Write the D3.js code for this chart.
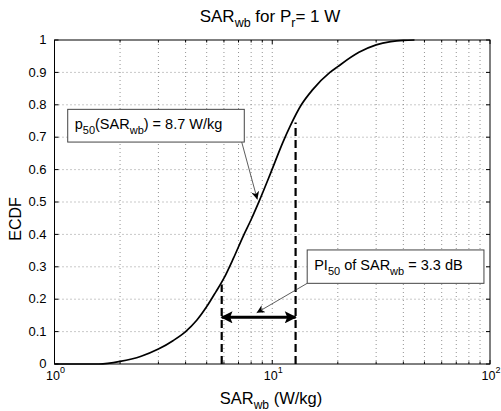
<!DOCTYPE html>
<html><head><meta charset="utf-8">
<script src="https://cdn.jsdelivr.net/npm/d3@7"></script>
<style>
body{margin:0;background:#fff;}
text{font-family:"Liberation Sans",Arial,Helvetica,sans-serif;fill:#000;}
</style></head>
<body>
<svg id="chart" width="501" height="411"></svg>
<script>
// ECDF of whole-body SAR (W/kg)
const sarValues = [1, 1.6, 2, 2.5, 3, 3.5, 4, 4.5, 5.09, 5.5, 6, 6.62, 7.36, 8, 8.7, 9.84, 11.2, 12.1, 13.6, 15.3, 18.4, 20, 25, 30, 35, 40, 45];
const ecdfValues = [0, 0, 0.008, 0.024, 0.046, 0.072, 0.10, 0.135, 0.185, 0.222, 0.265, 0.325, 0.395, 0.446, 0.502, 0.59, 0.685, 0.735, 0.8, 0.846, 0.9, 0.918, 0.962, 0.985, 0.995, 0.999, 1];
const yTicks = [0, 0.1, 0.2, 0.3, 0.4, 0.5, 0.6, 0.7, 0.8, 0.9, 1];
const yTickLabels = ["0", "0.1", "0.2", "0.3", "0.4", "0.5", "0.6", "0.7", "0.8", "0.9", "1"];
const xMajorTicks = [1, 10, 100];
const xMajorExp = ["0", "1", "2"];
const xMinorTicks = [2, 3, 4, 5, 6, 7, 8, 9, 20, 30, 40, 50, 60, 70, 80, 90];
// percentile interval markers
const p25 = 5.86, p75 = 12.8, p50 = 8.7;
const p25Level = 0.245, p75Level = 0.745, piArrowLevel = 0.144;
// annotation boxes (data coordinates)
const box1 = {x0: 1.15, x1: 7.44, y0: 0.685, y1: 0.786};
const arrow1 = {x0: 7.24, y0: 0.685, x1: 8.54, y1: 0.508};
const box2 = {x0: 14.47, x1: 93.8, y0: 0.249, y1: 0.352};
const arrow2 = {x0: 14.47, y0: 0.249, x1: 8.48, y1: 0.158};

const svg = d3.select("#chart");
const L = 54.5, R = 490, T = 40, B = 364;
const x = d3.scaleLog().domain([1, 100]).range([L, R]);
const y = d3.scaleLinear().domain([0, 1]).range([B, T]);

const defs = svg.append("defs");
defs.append("marker").attr("id", "ah").attr("viewBox", "0 0 10 10")
  .attr("refX", 10).attr("refY", 5).attr("markerWidth", 10).attr("markerHeight", 8)
  .attr("markerUnits", "userSpaceOnUse").attr("orient", "auto")
  .append("path").attr("d", "M0,0 L10,5 L0,10 L3,5 Z").attr("fill", "#000");
defs.append("marker").attr("id", "dh").attr("viewBox", "0 0 10 10")
  .attr("refX", 9).attr("refY", 5).attr("markerWidth", 14).attr("markerHeight", 12)
  .attr("markerUnits", "userSpaceOnUse").attr("orient", "auto-start-reverse")
  .append("path").attr("d", "M0,0 L10,5 L0,10 L2,5 Z").attr("fill", "#000");

// grid
const g = svg.append("g");
g.selectAll(".vg").data(xMinorTicks.concat([10])).enter().append("line")
  .attr("x1", d => x(d)).attr("x2", d => x(d)).attr("y1", T).attr("y2", B)
  .attr("stroke", "#777").attr("stroke-width", 0.8).attr("stroke-dasharray", "1,3");
g.selectAll(".hg").data(yTicks.slice(1, -1)).enter().append("line")
  .attr("x1", L).attr("x2", R).attr("y1", d => y(d)).attr("y2", d => y(d))
  .attr("stroke", "#777").attr("stroke-width", 0.8).attr("stroke-dasharray", "1,3");

// ticks (inside)
yTicks.forEach(v => {
  g.append("line").attr("x1", L).attr("x2", L + 4).attr("y1", y(v)).attr("y2", y(v)).attr("stroke", "#000");
  g.append("line").attr("x1", R).attr("x2", R - 4).attr("y1", y(v)).attr("y2", y(v)).attr("stroke", "#000");
});
xMajorTicks.forEach(v => {
  g.append("line").attr("x1", x(v)).attr("x2", x(v)).attr("y1", B).attr("y2", B - 4).attr("stroke", "#000");
  g.append("line").attr("x1", x(v)).attr("x2", x(v)).attr("y1", T).attr("y2", T + 4).attr("stroke", "#000");
});
xMinorTicks.forEach(v => {
  g.append("line").attr("x1", x(v)).attr("x2", x(v)).attr("y1", B).attr("y2", B - 2.5).attr("stroke", "#000");
  g.append("line").attr("x1", x(v)).attr("x2", x(v)).attr("y1", T).attr("y2", T + 2.5).attr("stroke", "#000");
});

// axes box
svg.append("rect").attr("x", L).attr("y", T).attr("width", R - L).attr("height", B - T)
  .attr("fill", "none").attr("stroke", "#000").attr("stroke-width", 1);

// tick labels
svg.selectAll(".yl").data(yTicks).enter().append("text")
  .attr("x", L - 8).attr("y", d => y(d)).attr("dy", "0.33em")
  .attr("text-anchor", "end").attr("font-size", 13)
  .text((d, i) => yTickLabels[i]);
xMajorTicks.forEach((v, i) => {
  const t = svg.append("text").attr("x", x(v) - 8.5).attr("y", 380).attr("font-size", 12.5);
  t.append("tspan").text("10");
  t.append("tspan").attr("font-size", 9).attr("dy", -7).text(xMajorExp[i]);
});

// curve
const line = d3.line().x((d, i) => x(sarValues[i])).y((d, i) => y(ecdfValues[i])).curve(d3.curveMonotoneX);
svg.append("path").datum(ecdfValues).attr("d", line)
  .attr("fill", "none").attr("stroke", "#000").attr("stroke-width", 1.7);

// dashed percentile lines
svg.append("line").attr("x1", x(p25)).attr("x2", x(p25)).attr("y1", y(0)).attr("y2", y(p25Level))
  .attr("stroke", "#000").attr("stroke-width", 2.2).attr("stroke-dasharray", "8,4");
svg.append("line").attr("x1", x(p75)).attr("x2", x(p75)).attr("y1", y(0)).attr("y2", y(p75Level))
  .attr("stroke", "#000").attr("stroke-width", 2.2).attr("stroke-dasharray", "8,4");

// double arrow
svg.append("line").attr("x1", x(p25)).attr("x2", x(p75)).attr("y1", y(piArrowLevel)).attr("y2", y(piArrowLevel))
  .attr("stroke", "#000").attr("stroke-width", 3)
  .attr("marker-start", "url(#dh)").attr("marker-end", "url(#dh)");

// annotation 1
svg.append("line").attr("x1", x(arrow1.x0)).attr("y1", y(arrow1.y0)).attr("x2", x(arrow1.x1)).attr("y2", y(arrow1.y1))
  .attr("stroke", "#333").attr("stroke-width", 0.8).attr("marker-end", "url(#ah)");
svg.append("rect").attr("x", x(box1.x0)).attr("y", y(box1.y1))
  .attr("width", x(box1.x1) - x(box1.x0)).attr("height", y(box1.y0) - y(box1.y1))
  .attr("fill", "#fff").attr("stroke", "#444").attr("stroke-width", 1);
const t1 = svg.append("text").attr("x", x(box1.x0) + 7).attr("y", (y(box1.y0) + y(box1.y1)) / 2 + 3).attr("font-size", 14.5);
t1.append("tspan").text("p");
t1.append("tspan").attr("font-size", 11).attr("dy", 5).text("50");
t1.append("tspan").attr("dy", -5).text("(SAR");
t1.append("tspan").attr("font-size", 11).attr("dy", 5).text("wb");
t1.append("tspan").attr("dy", -5).text(") = " + p50 + " W/kg");

// annotation 2
svg.append("line").attr("x1", x(arrow2.x0)).attr("y1", y(arrow2.y0)).attr("x2", x(arrow2.x1)).attr("y2", y(arrow2.y1))
  .attr("stroke", "#333").attr("stroke-width", 0.8).attr("marker-end", "url(#ah)");
svg.append("rect").attr("x", x(box2.x0)).attr("y", y(box2.y1))
  .attr("width", x(box2.x1) - x(box2.x0)).attr("height", y(box2.y0) - y(box2.y1))
  .attr("fill", "#fff").attr("stroke", "#444").attr("stroke-width", 1);
const t2 = svg.append("text").attr("x", x(box2.x0) + 7).attr("y", (y(box2.y0) + y(box2.y1)) / 2 + 3).attr("font-size", 14.5);
t2.append("tspan").text("PI");
t2.append("tspan").attr("font-size", 11).attr("dy", 5).text("50");
t2.append("tspan").attr("dy", -5).text(" of SAR");
t2.append("tspan").attr("font-size", 11).attr("dy", 5).text("wb");
t2.append("tspan").attr("dy", -5).text(" = 3.3 dB");

// title
const tt = svg.append("text").attr("x", 270).attr("y", 22).attr("text-anchor", "middle").attr("font-size", 17);
tt.append("tspan").text("SAR");
tt.append("tspan").attr("font-size", 12.5).attr("dy", 5).text("wb");
tt.append("tspan").attr("dy", -5).text(" for P");
tt.append("tspan").attr("font-size", 12.5).attr("dy", 5).text("r");
tt.append("tspan").attr("dy", -5).text("= 1 W");

// x label
const xl = svg.append("text").attr("x", 271).attr("y", 404).attr("text-anchor", "middle").attr("font-size", 16.5);
xl.append("tspan").text("SAR");
xl.append("tspan").attr("font-size", 12).attr("dy", 5).text("wb");
xl.append("tspan").attr("dy", -5).text(" (W/kg)");

// y label
svg.append("text").attr("transform", "translate(21,219) rotate(-90)")
  .attr("text-anchor", "middle").attr("font-size", 16).text("ECDF");
</script>
</body></html>
